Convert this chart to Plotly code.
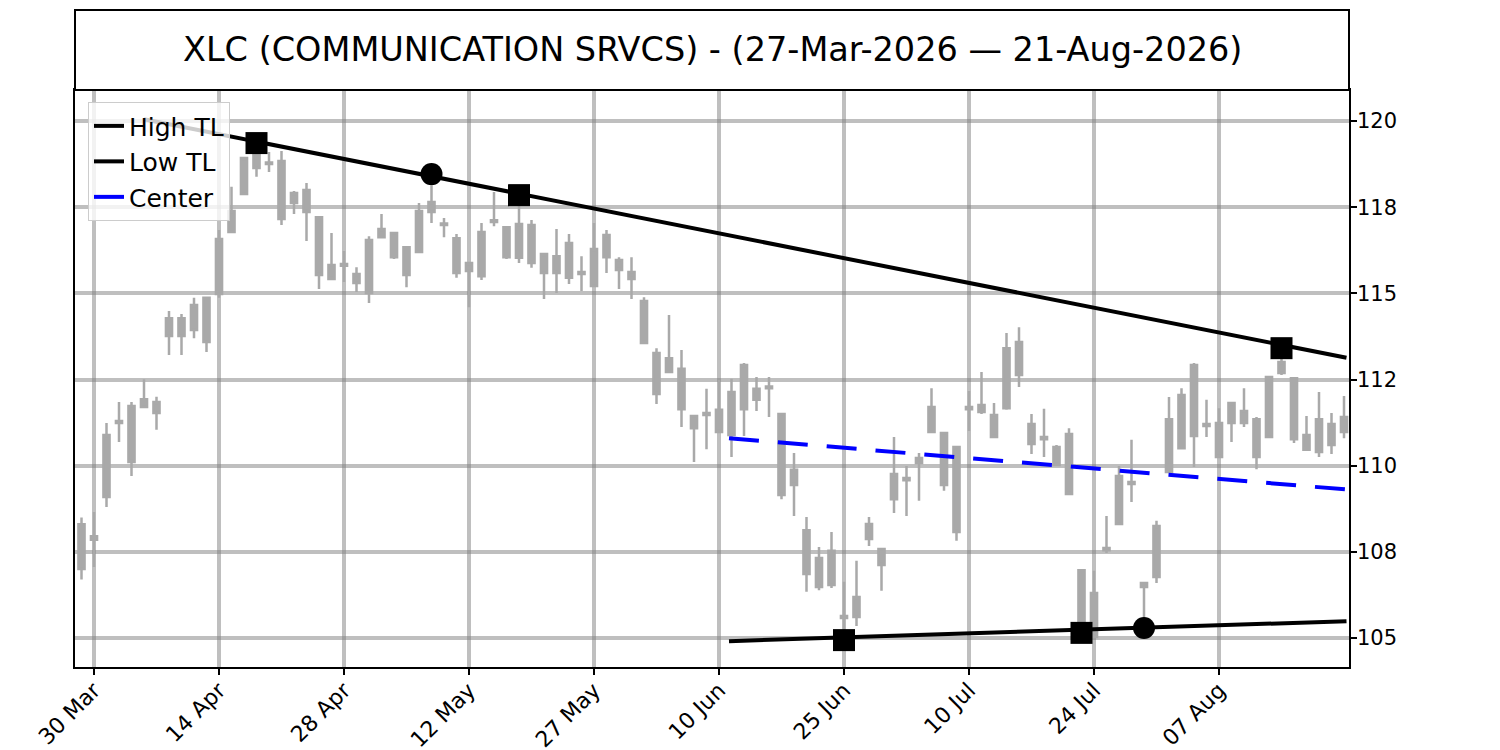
import numpy as np
import pandas as pd
import plotly.graph_objects as go

# trading days 27 Mar 2026 -> 21 Aug 2026 (NYSE holidays removed)
holidays = ["2026-04-03", "2026-05-25", "2026-06-19", "2026-07-03"]
dates = [d for d in pd.bdate_range("2026-03-27", "2026-08-21") if d.strftime("%Y-%m-%d") not in holidays]

# OHLC
opens = [107.0, 107.95, 109.09, 111.3, 111.73, 111.7, 111.53, 113.76, 113.76, 113.94, 113.59,
         114.98, 116.78, 117.88, 118.64, 118.8, 118.84, 117.62, 118.0, 117.21, 115.82,
         115.85, 115.3, 115.01, 116.63, 116.75, 115.53, 116.2, 117.36, 117.03, 116.6,
         115.65, 115.5, 117.12, 116.05, 116.03, 116.98, 115.59, 116.08, 116.46, 115.62,
         115.21, 116.05, 115.97, 115.62, 114.78, 113.27, 112.72, 112.81, 111.44, 111.53,
         111.62, 110.89, 111.64, 112.23, 112.3, 111.5, 109.88, 108.13, 107.32, 106.54,
         105.64, 105.61, 107.87, 107.58, 109.03, 109.64, 110.08, 110.98, 110.95, 110.54,
         111.7, 111.56, 111.47, 111.67, 113.59, 111.21, 110.83, 110.54, 110.92, 106.97,
         106.31, 107.61, 108.31, 109.53, 106.6, 106.77, 109.82, 110.51, 110.86, 111.21,
         111.24, 111.24, 111.59, 111.35, 110.83, 112.69, 112.54, 110.89, 110.4, 110.6,
         110.98]
highs = [108.5, 108.66, 111.24, 111.85, 111.85, 112.51, 112.0, 114.49, 114.4, 114.87, 114.9,
         116.84, 118.09, 118.96, 119.3, 119.1, 119.13, 117.97, 118.2, 117.21, 116.75,
         116.23, 115.76, 116.66, 117.3, 116.78, 116.36, 117.62, 118.3, 117.19, 116.72,
         115.9, 117.04, 117.94, 116.95, 117.7, 117.13, 116.16, 116.87, 116.72, 116.08,
         117.04, 116.84, 116.05, 116.05, 114.89, 113.41, 114.37, 113.36, 111.46, 112.23,
         112.49, 112.52, 112.98, 112.57, 112.57, 111.52, 110.37, 108.51, 107.64, 108.08,
         106.63, 107.24, 108.51, 107.6, 110.83, 109.99, 110.37, 112.25, 110.97, 110.57,
         112.17, 112.72, 111.82, 113.85, 114.02, 111.5, 111.65, 110.6, 111.09, 106.99,
         106.95, 108.54, 109.99, 110.75, 106.62, 108.4, 111.99, 112.25, 112.98, 111.91,
         111.67, 111.84, 112.25, 111.41, 112.6, 113.3, 112.57, 111.44, 112.14, 111.53,
         112.02]
lows = [106.7, 107.06, 108.8, 110.69, 109.7, 111.67, 111.04, 113.21, 113.21, 113.7, 113.3,
        114.87, 116.75, 117.85, 118.38, 118.52, 116.98, 117.3, 116.52, 115.13, 115.42,
        115.33, 115.04, 114.72, 116.63, 116.0, 115.18, 116.2, 117.04, 116.63, 115.45,
        114.6, 115.39, 116.95, 116.0, 115.88, 115.74, 114.84, 115.01, 115.27, 115.07,
        115.21, 115.59, 115.13, 114.84, 113.56, 111.79, 112.72, 111.12, 110.11, 110.48,
        110.95, 110.25, 110.86, 111.59, 111.41, 109.03, 108.54, 106.34, 106.39, 106.45,
        105.0, 105.35, 107.67, 106.37, 108.63, 108.54, 108.98, 110.96, 109.27, 107.82,
        111.01, 111.5, 110.82, 111.62, 112.28, 110.34, 110.25, 110.0, 109.16, 105.15,
        105.0, 107.47, 108.29, 108.95, 105.3, 106.6, 109.8, 110.48, 109.96, 110.83,
        110.23, 110.69, 111.12, 109.9, 110.8, 112.63, 110.66, 110.44, 110.25, 110.34,
        110.8]
closes = [108.3, 107.85, 110.89, 111.24, 110.11, 111.93, 111.85, 114.28, 114.28, 114.66, 114.87,
          116.58, 117.39, 118.93, 119.1, 118.75, 117.16, 117.91, 117.36, 115.53, 115.42,
          115.8, 115.56, 116.55, 116.87, 116.05, 116.34, 117.39, 117.65, 116.98, 115.59,
          115.88, 116.78, 117.07, 116.92, 117.01, 115.88, 116.14, 115.59, 115.45, 115.56,
          116.29, 116.69, 115.68, 115.42, 113.56, 112.08, 113.12, 111.64, 111.09, 111.47,
          110.98, 112.14, 112.92, 111.91, 112.25, 109.15, 109.44, 106.86, 106.48, 107.53,
          105.58, 106.19, 108.31, 107.12, 109.76, 109.58, 110.22, 111.7, 109.44, 108.08,
          111.64, 111.76, 110.83, 113.41, 112.63, 110.63, 110.77, 110.02, 109.18, 105.3,
          105.03, 107.55, 109.7, 109.47, 106.48, 108.25, 111.35, 112.05, 112.92, 111.15,
          110.25, 111.82, 111.24, 110.25, 112.57, 113.01, 110.77, 110.46, 111.35, 111.21,
          111.41]

# trend lines (x in trading-day index, 0 = 27 Mar)
hi_tl_x = [5, 101.2]
hi_tl_y = [120.05, 113.13]
lo_tl_x = [51.8, 101.2]
lo_tl_y = [104.91, 105.49]

# pivot markers
square_x = [14, 35, 61, 80, 96]
square_y = [119.36, 117.85, 104.94, 105.15, 113.41]
circle_x = [28, 85]
circle_y = [118.46, 105.29]

ytick_vals = [105, 107.5, 110, 112.5, 115, 117.5, 120]
title = "XLC (COMMUNICATION SRVCS) - (27-Mar-2026 \u2014 21-Aug-2026)"

idx = list(range(len(dates)))
tick_idx = idx[1:100:10]
tick_text = [dates[i].strftime("%d %b") for i in tick_idx]
ytick_text = [f"{v:.0f}" for v in ytick_vals]

center_y = [(np.interp(x, hi_tl_x, hi_tl_y) + y) / 2 for x, y in zip(lo_tl_x, lo_tl_y)]

gray = "#a9a9a9"
fig = go.Figure()
fig.add_trace(go.Candlestick(x=idx, open=opens, high=highs, low=lows, close=closes,
                             increasing=dict(line=dict(color=gray, width=2.5), fillcolor=gray),
                             decreasing=dict(line=dict(color=gray, width=2.5), fillcolor=gray),
                             showlegend=False, hovertext=[d.strftime("%d %b %Y") for d in dates]))
fig.add_trace(go.Scatter(x=hi_tl_x, y=hi_tl_y, mode="lines", name="High TL",
                         line=dict(color="black", width=4)))
fig.add_trace(go.Scatter(x=lo_tl_x, y=lo_tl_y, mode="lines", name="Low TL",
                         line=dict(color="black", width=4)))
fig.add_trace(go.Scatter(x=lo_tl_x, y=center_y, mode="lines", name="Center",
                         line=dict(color="blue", width=4, dash="30px,19px")))
fig.add_trace(go.Scatter(x=square_x, y=square_y, mode="markers", showlegend=False,
                         marker=dict(symbol="square", size=22, color="black")))
fig.add_trace(go.Scatter(x=circle_x, y=circle_y, mode="markers", showlegend=False,
                         marker=dict(symbol="circle", size=22, color="black")))

plot_h = 750 - 90 - 83
# title box above the axes
fig.add_shape(type="rect", xref="paper", yref="paper", x0=0, x1=1, y0=1, y1=1 + 80 / plot_h,
              line=dict(color="black", width=2), fillcolor="white")
fig.add_annotation(text=title, xref="paper", yref="paper", x=0.5, y=1 + 40 / plot_h,
                   yanchor="middle", showarrow=False, font=dict(size=33.5, color="black"))

grid = "rgba(128,128,128,0.5)"
# page body has an 8px margin, so margins are shifted by 8px
fig.update_layout(
    width=1500, height=750,
    margin=dict(l=67, r=159, t=82, b=91),
    plot_bgcolor="white", paper_bgcolor="white",
    font=dict(family="DejaVu Sans", color="black"),
    legend=dict(x=0.0102, y=0.979, xanchor="left", yanchor="top",
                bgcolor="rgba(255,255,255,0.8)", bordercolor="#cccccc", borderwidth=1,
                font=dict(size=25), itemwidth=30),
    xaxis=dict(range=[-0.52, 101.4], tickvals=tick_idx, ticktext=tick_text, tickangle=-45,
               ticks="outside", ticklen=6, tickwidth=1.5, tickcolor="black",
               tickfont=dict(size=22), automargin=False, ticklabelstandoff=-6,
               showgrid=True, gridcolor=grid, gridwidth=4, zeroline=False,
               showline=True, mirror=True, linecolor="black", linewidth=1.5,
               rangeslider=dict(visible=False)),
    yaxis=dict(side="right", range=[104.16, 120.9], tickvals=ytick_vals, ticktext=ytick_text,
               ticks="outside", ticklen=6, tickwidth=1.5, tickcolor="black",
               tickfont=dict(size=21), automargin=False, ticklabelstandoff=-4,
               showgrid=True, gridcolor=grid, gridwidth=4, zeroline=False,
               showline=True, mirror=True, linecolor="black", linewidth=1.5),
)

fig.write_html("out.html")
